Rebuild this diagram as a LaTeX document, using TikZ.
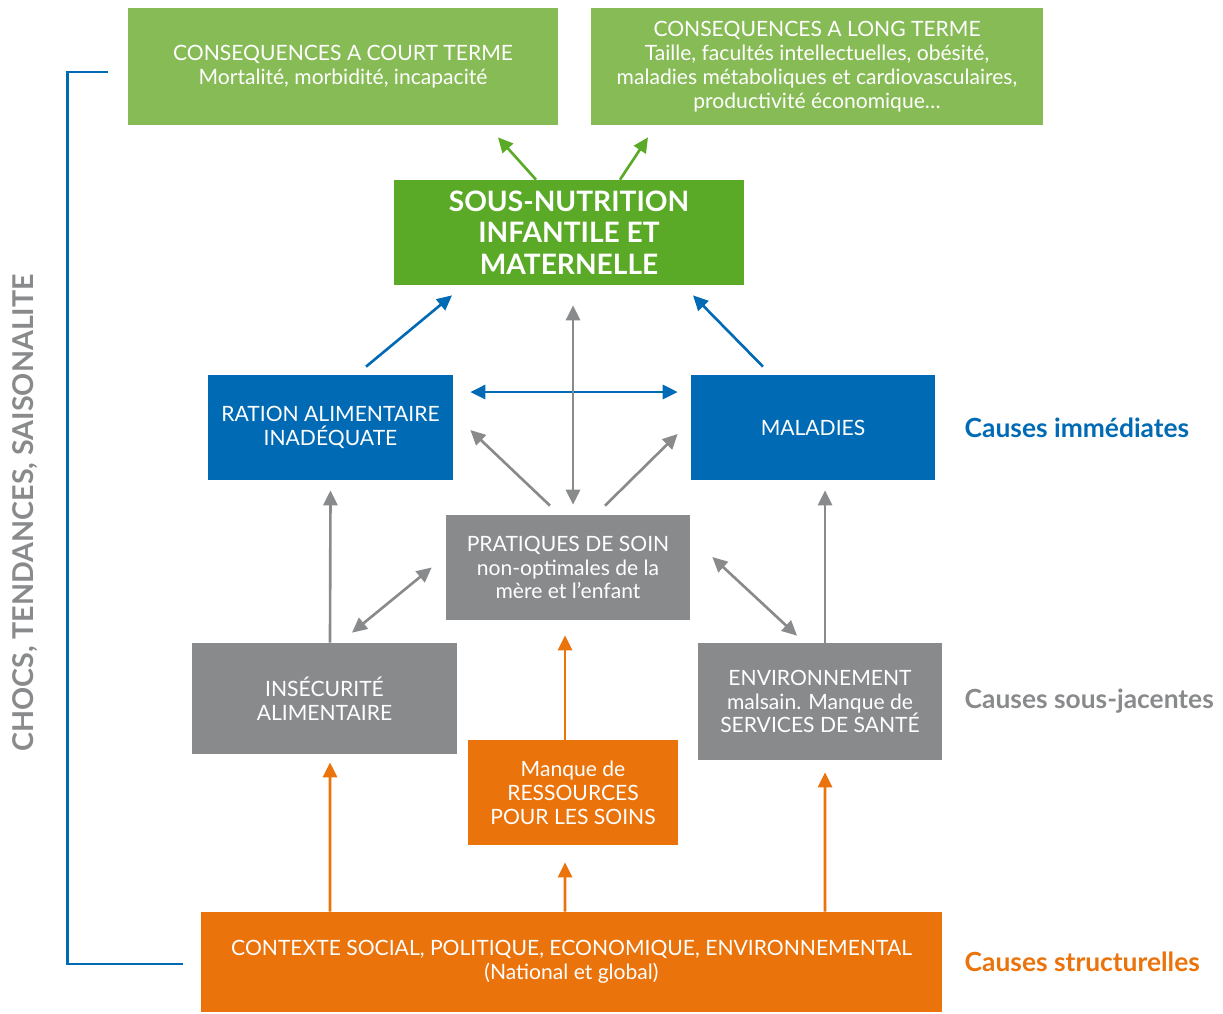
\documentclass[tikz,border=0pt]{standalone}
\usepackage{fontspec}
\setmainfont{Lato}
\usepackage{tikz}
\usetikzlibrary{positioning}
\usetikzlibrary{arrows.meta}
\definecolor{lightgreen}{HTML}{87BB56}
\definecolor{darkgreen}{HTML}{5AAA28}
\definecolor{causeblue}{HTML}{006AB4}
\definecolor{causegray}{HTML}{898A8C}
\definecolor{causeorange}{HTML}{EA730C}
\tikzstyle{box}=[rectangle,inner sep=2pt,align=center,text=white,font=\fontsize{12}{13.6}\selectfont]
\tikzstyle{consbox}=[box,fill=lightgreen,minimum height=2.34cm]
\tikzstyle{bluebox}=[box,fill=causeblue,minimum width=4.9cm,minimum height=2.1cm]
\tikzstyle{graybox}=[box,fill=causegray,minimum width=4.88cm]
\tikzstyle{orangebox}=[box,fill=causeorange]
\tikzstyle{sidelabel}=[font=\bfseries\fontsize{15}{17}\selectfont,anchor=west,inner sep=0pt]
\tikzstyle{edge} = [draw,line width=1.5pt,-{Triangle[length=8.5pt,width=8pt]}]
\tikzstyle{biedge} = [draw,line width=1.5pt,{Triangle[length=8.5pt,width=8pt]}-{Triangle[length=8.5pt,width=8pt]}]

\begin{document}
\begin{tikzpicture}
    \useasboundingbox (0,0) rectangle (24.46,-20.26);

    % Consequences and the central problem
    \node[consbox,minimum width=8.6cm] (court) at (6.86,-1.33) {CONSEQUENCES A COURT TERME\\Mortalité, morbidité, incapacité};
    \node[consbox,minimum width=9.04cm] (long) at (16.34,-1.33) {CONSEQUENCES A LONG TERME\\Taille, facultés intellectuelles, obésité,\\maladies métaboliques et cardiovasculaires,\\productivité économique…};
    \node[box,fill=darkgreen,minimum width=7cm,minimum height=2.1cm,font=\bfseries\fontsize{16}{18}\selectfont] (sn) at (11.38,-4.65) {SOUS-NUTRITION\\INFANTILE ET\\MATERNELLE};

    % Immediate, underlying and structural causes
    \node[bluebox] (ration) at (6.61,-8.55) {RATION ALIMENTAIRE\\INADÉQUATE};
    \node[bluebox,minimum width=4.88cm] (maladies) at (16.26,-8.55) {MALADIES};
    \node[graybox,minimum height=2.1cm] (pratiques) at (11.36,-11.35) {PRATIQUES DE SOIN\\non-optimales de la\\mère et l’enfant};
    \node[graybox,minimum width=5.3cm,minimum height=2.22cm] (insecurite) at (6.49,-13.97) {INSÉCURITÉ\\ALIMENTAIRE};
    \node[graybox,minimum height=2.34cm] (environnement) at (16.4,-14.03) {ENVIRONNEMENT\\malsain. Manque de\\SERVICES DE SANTÉ};
    \node[orangebox,minimum width=4.2cm,minimum height=2.1cm] (ressources) at (11.46,-15.85) {Manque de\\RESSOURCES\\POUR LES SOINS};
    \node[orangebox,minimum width=14.82cm,minimum height=2cm] (contexte) at (11.43,-19.24) {CONTEXTE SOCIAL, POLITIQUE, ECONOMIQUE, ENVIRONNEMENTAL\\(National et global)};

    \node[sidelabel,text=causeblue,right=0.58cm of maladies] (immediates) {Causes immédiates};
    \node[sidelabel,text=causegray,right=0.44cm of environnement] (sousjacentes) {Causes sous-jacentes};
    \node[sidelabel,text=causeorange,right=0.44cm of contexte] (structurelles) {Causes structurelles};

    \node[rotate=90,text=causegray,font=\bfseries\fontsize{16.3}{18}\selectfont] (chocs) at (0.5,-10.26) {CHOCS, TENDANCES, SAISONALITE};
    \draw[causeblue,line width=1.5pt] ([xshift=-0.4cm,yshift=-0.11cm]court.west) -- ++(-0.8,0) |- ([xshift=-0.36cm,yshift=-0.04cm]contexte.west);

    % Arrows towards the consequences
    \path[edge,darkgreen] ([xshift=-0.66cm]sn.north) -- ([xshift=3.1cm,yshift=-0.24cm]court.south);
    \path[edge,darkgreen] ([xshift=1.02cm]sn.north) -- ([xshift=-3.38cm,yshift=-0.24cm]long.south);

    % Immediate causes
    \path[edge,causeblue] ([xshift=0.71cm,yshift=0.16cm]ration.north) -- ([xshift=-2.34cm,yshift=-0.2cm]sn.south);
    \path[edge,causeblue] ([xshift=-1cm,yshift=0.16cm]maladies.north) -- ([xshift=2.48cm,yshift=-0.2cm]sn.south);
    \path[biedge,causeblue] ([xshift=0.34cm,yshift=0.71cm]ration.east) -- ([xshift=-0.26cm,yshift=0.71cm]maladies.west);

    % Underlying causes
    \path[biedge,causegray] ([xshift=0.1cm,yshift=0.2cm]pratiques.north) -- ([xshift=0.08cm,yshift=-0.4cm]sn.south);
    \path[edge,causegray] ([xshift=-0.36cm,yshift=0.18cm]pratiques.north) -- ([xshift=0.34cm,yshift=-0.05cm]ration.east);
    \path[edge,causegray] ([xshift=0.74cm,yshift=0.18cm]pratiques.north) -- ([xshift=-0.26cm,yshift=-0.13cm]maladies.west);
    \path[biedge,causegray] ([xshift=0.55cm,yshift=0.2cm]insecurite.north) -- ([xshift=-0.28cm]pratiques.west);
    \path[biedge,causegray] ([xshift=0.44cm,yshift=0.21cm]pratiques.east) -- ([xshift=-0.46cm,yshift=0.14cm]environnement.north);
    \path[edge,causegray] ([xshift=0.11cm]insecurite.north) -- ([yshift=-0.2cm]ration.south);
    \path[edge,causegray] ([xshift=0.1cm]environnement.north) -- ([xshift=0.24cm,yshift=-0.2cm]maladies.south);

    % Structural causes
    \path[edge,causeorange] ([xshift=-0.16cm]ressources.north) -- ([xshift=-0.06cm,yshift=-0.3cm]pratiques.south);
    \path[edge,causeorange] ([xshift=-4.83cm]contexte.north) -- ([xshift=0.11cm,yshift=-0.16cm]insecurite.south);
    \path[edge,causeorange] ([xshift=-0.13cm]contexte.north) -- ([xshift=-0.16cm,yshift=-0.34cm]ressources.south);
    \path[edge,causeorange] ([xshift=5.07cm]contexte.north) -- ([xshift=0.1cm,yshift=-0.24cm]environnement.south);
\end{tikzpicture}
\end{document}
